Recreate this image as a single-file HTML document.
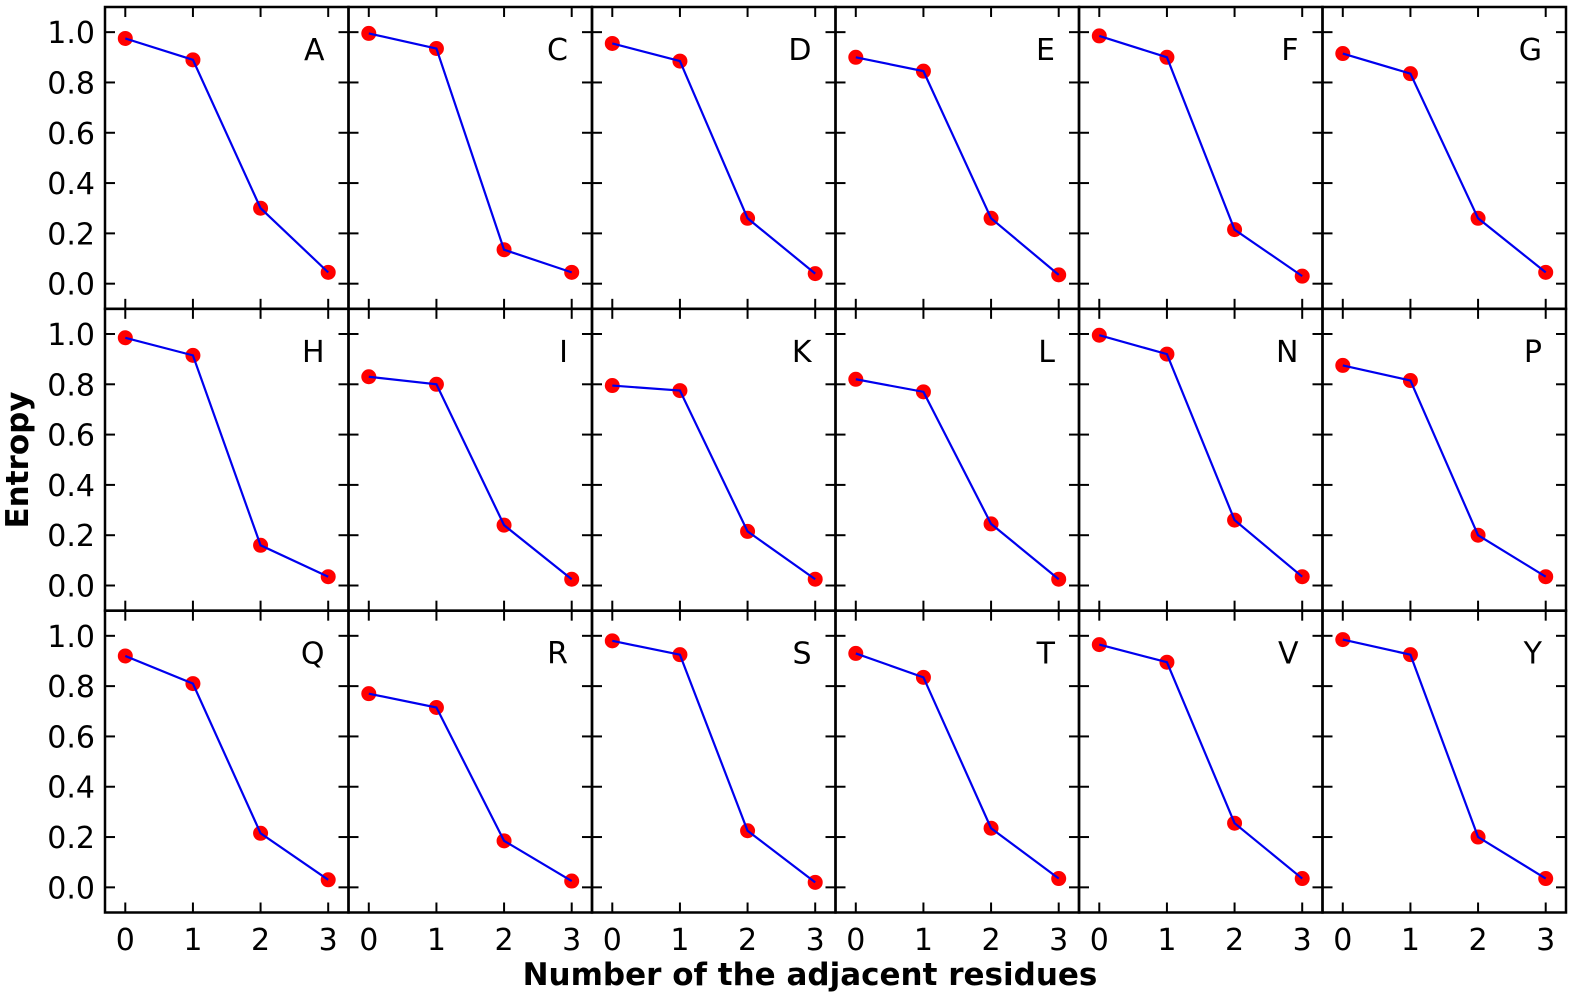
<!DOCTYPE html>
<html><head><meta charset="utf-8"><style>
html,body{margin:0;padding:0;background:#fff;}
svg{display:block;}
text{font-family:"DejaVu Sans","Liberation Sans",sans-serif;fill:#000;}
</style></head><body>
<svg id="s" width="1575" height="1003" xmlns="http://www.w3.org/2000/svg"></svg>
<script>
const data={A:[.975,.89,.30,.045],C:[.995,.935,.135,.045],D:[.955,.885,.26,.04],E:[.90,.845,.26,.035],F:[.985,.90,.215,.03],G:[.915,.835,.26,.045],
H:[.985,.915,.16,.035],I:[.83,.80,.24,.025],K:[.795,.775,.215,.025],L:[.82,.77,.245,.025],N:[.995,.92,.26,.035],P:[.875,.815,.20,.035],
Q:[.92,.81,.215,.03],R:[.77,.715,.185,.025],S:[.98,.925,.225,.02],T:[.93,.835,.235,.035],V:[.965,.895,.255,.035],Y:[.985,.925,.20,.035]};
const keys=Object.keys(data);
const L=105,R=1566,T=7,B=912.5,W=(R-L)/6,H=(B-T)/3;
let o='';
keys.forEach((k,i)=>{
 const c=i%6,r=Math.floor(i/6);
 const x0=L+c*W,y0=T+r*H;
 const X=v=>x0+(v+0.3)/3.6*W, Y=v=>y0+(1.1-v)/1.2*H;
 for(let t=0;t<=5;t++){const y=Y(t*0.2);
  o+=`<line x1="${x0}" y1="${y}" x2="${x0+10}" y2="${y}" stroke="#000" stroke-width="2"/>`;
  o+=`<line x1="${x0+W}" y1="${y}" x2="${x0+W-10}" y2="${y}" stroke="#000" stroke-width="2"/>`;
  if(c==0) o+=`<text x="95" y="${y+11}" font-size="30" text-anchor="end">${(t*0.2).toFixed(1)}</text>`;
 }
 for(let t=0;t<=3;t++){const x=X(t);
  o+=`<line x1="${x}" y1="${y0}" x2="${x}" y2="${y0+10}" stroke="#000" stroke-width="2"/>`;
  o+=`<line x1="${x}" y1="${y0+H}" x2="${x}" y2="${y0+H-10}" stroke="#000" stroke-width="2"/>`;
  if(r==2) o+=`<text x="${x}" y="950" font-size="30" text-anchor="middle">${t}</text>`;
 }
 const d=data[k];
 d.forEach((v,j)=>{o+=`<circle cx="${X(j)}" cy="${Y(v)}" r="7.5" fill="#ff0000"/>`;});
 o+=`<polyline fill="none" stroke="#0000ee" stroke-width="2.2" points="${d.map((v,j)=>X(j)+','+Y(v)).join(' ')}"/>`;
 o+=`<text x="${x0+W-24}" y="${y0+53}" font-size="30" text-anchor="end">${k}</text>`;
 o+=`<rect x="${x0}" y="${y0}" width="${W}" height="${H}" fill="none" stroke="#000" stroke-width="2.5"/>`;
});
o+=`<text x="810" y="985" font-size="31" font-weight="bold" text-anchor="middle">Number of the adjacent residues</text>`;
o+=`<text transform="translate(28,460) rotate(-90)" font-size="31" font-weight="bold" text-anchor="middle">Entropy</text>`;
document.getElementById('s').innerHTML=o;
</script>
</body></html>
